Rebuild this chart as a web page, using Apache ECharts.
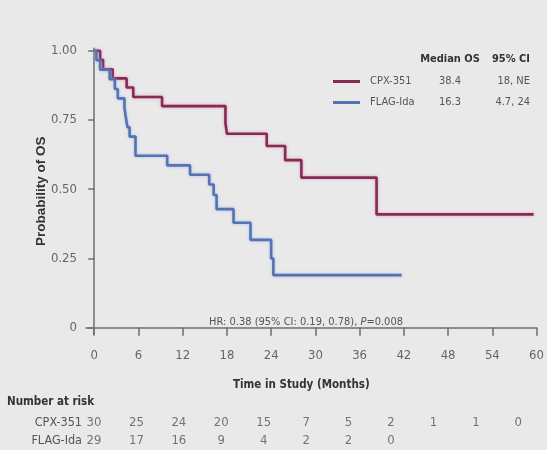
<!DOCTYPE html>
<html>
<head>
<meta charset="utf-8">
<script src="https://cdn.jsdelivr.net/npm/echarts@6/dist/echarts.min.js"></script>
<style>
html,body{margin:0;padding:0;background:#e9e9e9;}
#chart{width:547px;height:450px;}
</style>
</head>
<body>
<div id="chart"></div>
<script>
// ---- data ----
const cpxTime = [0, 0.8, 1.2, 2.5, 4.4, 5.3, 9.2, 17.8, 18.0, 23.4, 25.9, 28.1, 38.3, 59.6];
const cpxSurv = [1.0, 0.967, 0.933, 0.9, 0.867, 0.833, 0.8, 0.74, 0.70, 0.656, 0.605, 0.542, 0.409, 0.409];
const flagTime = [0, 0.3, 0.8, 2.1, 2.8, 3.2, 4.1, 4.3, 4.5, 4.8, 5.6, 9.9, 13.0, 15.6, 16.2, 16.6, 18.9, 21.2, 24.0, 24.3, 41.7];
const flagSurv = [1.0, 0.966, 0.931, 0.897, 0.862, 0.828, 0.793, 0.759, 0.724, 0.690, 0.621, 0.586, 0.552, 0.517, 0.479, 0.428, 0.379, 0.317, 0.25, 0.19, 0.19];

const xTicks = [0, 6, 12, 18, 24, 30, 36, 42, 48, 54, 60];
const yTicks = [0, 0.25, 0.5, 0.75, 1.0];

const groups = ['CPX-351', 'FLAG-Ida'];
const medianOS = ['38.4', '16.3'];
const ci95 = ['18, NE', '4.7, 24'];

const riskTimes = [0, 6, 12, 18, 24, 30, 36, 42, 48, 54, 60];
const cpxRisk = [30, 25, 24, 20, 15, 7, 5, 2, 1, 1, 0];
const flagRisk = [29, 17, 16, 9, 4, 2, 2, 0];

const hrText = 'HR: 0.38 (95% CI: 0.19, 0.78), ';
const pText = '=0.008';

// ---- build ----
const NARROW = "'Liberation Sans Narrow','DejaVu Sans Condensed','Arial Narrow',sans-serif";
const SANS = "'Liberation Sans',Arial,sans-serif";
const zip = (a, b) => a.map((v, i) => [v, b[i]]);

const riskData = [];
cpxRisk.forEach((n, i) => riskData.push([riskTimes[i], groups[0], n]));
flagRisk.forEach((n, i) => riskData.push([riskTimes[i], groups[1], n]));

const legendInfo = {};
groups.forEach((g, i) => legendInfo[g] = [medianOS[i], ci95[i]]);

const chart = echarts.init(document.getElementById('chart'), null, {renderer: 'canvas'});
chart.setOption({
  backgroundColor: '#e9e9e9',
  animation: false,
  grid: [
    {left: 86, right: 5.3, top: 48.3, bottom: 116},
    {left: 94, width: 424.3, top: 414, height: 37}
  ],
  xAxis: [
    {
      type: 'value', gridIndex: 0, min: -1.113, max: 60,
      axisLine: {show: true, lineStyle: {color: '#6e6e6e', width: 1.5}},
      axisTick: {show: true, length: 8, customValues: xTicks, lineStyle: {color: '#6e6e6e', width: 1.5}},
      axisLabel: {customValues: xTicks, margin: 15, color: '#666', fontSize: 13, fontFamily: NARROW},
      splitLine: {show: false},
      name: 'Time in Study (Months)', nameLocation: 'middle', nameGap: 45, nameMoveOverlap: false,
      nameTextStyle: {fontFamily: NARROW, fontWeight: 'bold', fontSize: 11.5, color: '#333', padding: [0, 20, 0, 0]}
    },
    {
      type: 'value', gridIndex: 1, min: 0, max: 60, show: false
    }
  ],
  yAxis: [
    {
      type: 'value', gridIndex: 0, min: -0.0227, max: 1.0087,
      axisLine: {show: true, lineStyle: {color: '#6e6e6e', width: 1.5}},
      axisTick: {show: true, length: 6, customValues: yTicks, lineStyle: {color: '#6e6e6e', width: 1.5}},
      axisLabel: {customValues: yTicks, margin: 9, color: '#666', fontSize: 13, fontFamily: NARROW,
        formatter: v => v === 0 ? '0' : v.toFixed(2)},
      splitLine: {show: false},
      name: 'Probability of OS', nameLocation: 'middle', nameGap: 38, nameMoveOverlap: false,
      nameTextStyle: {fontFamily: SANS, fontWeight: 'bold', fontSize: 13.5, color: '#333'}
    },
    {
      type: 'category', gridIndex: 1, data: groups, inverse: true,
      axisLine: {show: false}, axisTick: {show: false}, splitLine: {show: false},
      axisLabel: {interval: 0, margin: 12, color: '#555', fontSize: 12.5, fontFamily: NARROW}
    }
  ],
  legend: {
    data: groups, orient: 'vertical', left: 333, top: 76, padding: 0, itemGap: 10,
    icon: 'rect', itemWidth: 27, itemHeight: 3,
    formatter: name => '{n|' + name + '}{m|' + legendInfo[name][0] + '}{c|' + legendInfo[name][1] + '}',
    textStyle: {
      rich: {
        n: {width: 55, padding: [0, 0, 0, 5], fontFamily: NARROW, fontSize: 11, color: '#555', lineHeight: 14},
        m: {width: 50, align: 'center', fontFamily: NARROW, fontSize: 11, color: '#555', lineHeight: 14},
        c: {width: 55, align: 'right', fontFamily: NARROW, fontSize: 11, color: '#555', lineHeight: 14}
      }
    }
  },
  graphic: [
    {type: 'text', x: 450, y: 59, style: {text: 'Median OS', align: 'center', verticalAlign: 'middle', font: 'bold 11px ' + NARROW, fill: '#333'}},
    {type: 'text', x: 530, y: 59, style: {text: '95% CI', align: 'right', verticalAlign: 'middle', font: 'bold 11px ' + NARROW, fill: '#333'}},
    {type: 'text', x: 403, y: 322, style: {
      text: '{a|' + hrText + '}{i|P}{a|' + pText + '}', align: 'right', verticalAlign: 'middle',
      rich: {
        a: {fontFamily: NARROW, fontSize: 11, fill: '#555'},
        i: {fontFamily: NARROW, fontSize: 11, fontStyle: 'italic', fill: '#555'}
      }
    }},
    {type: 'text', x: 7, y: 402, style: {text: 'Number at risk', align: 'left', verticalAlign: 'middle', font: 'bold 11.5px ' + NARROW, fill: '#333'}}
  ],
  series: [
    {
      name: groups[0], type: 'line', step: 'end', xAxisIndex: 0, yAxisIndex: 0,
      data: zip(cpxTime, cpxSurv), showSymbol: false, symbol: 'none',
      color: '#852c55',
      lineStyle: {width: 2.6, color: '#852c55', shadowColor: 'rgba(215,120,165,0.7)', shadowBlur: 3}
    },
    {
      name: groups[1], type: 'line', step: 'end', xAxisIndex: 0, yAxisIndex: 0,
      data: zip(flagTime, flagSurv), showSymbol: false, symbol: 'none',
      color: '#5573b3',
      lineStyle: {width: 2.6, color: '#5573b3', shadowColor: 'rgba(140,170,230,0.7)', shadowBlur: 3}
    },
    {
      name: 'risk', type: 'scatter', xAxisIndex: 1, yAxisIndex: 1,
      data: riskData, symbolSize: 0, silent: true,
      label: {show: true, position: 'inside', formatter: p => String(p.value[2]),
        fontFamily: NARROW, fontSize: 13, color: '#555'}
    }
  ]
});
</script>
</body>
</html>
